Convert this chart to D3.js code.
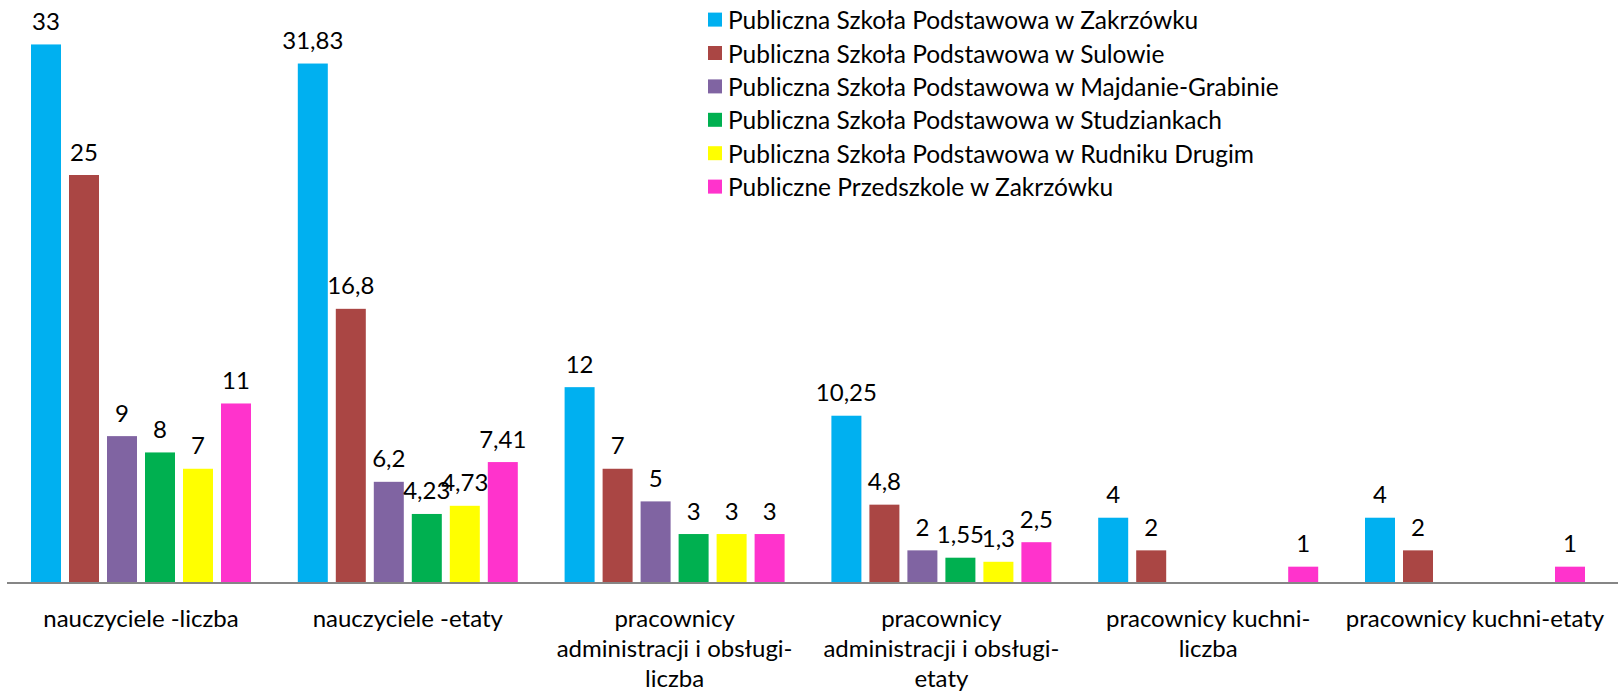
<!DOCTYPE html>
<html>
<head>
<meta charset="utf-8">
<script src="https://cdn.jsdelivr.net/npm/d3@7"></script>
<style>
  body { margin: 0; background: #fff; }
  svg { display: block; font-family: Lato, "Open Sans", sans-serif; }
</style>
</head>
<body>
<svg id="chart" width="1618" height="692"></svg>
<script>
// categories (each split into the lines shown under the axis)
var categories = [
    ['nauczyciele -liczba'],
    ['nauczyciele -etaty'],
    ['pracownicy', 'administracji i obsługi-', 'liczba'],
    ['pracownicy', 'administracji i obsługi-', 'etaty'],
    ['pracownicy kuchni-', 'liczba'],
    ['pracownicy kuchni-etaty']
];

var seriesNames = [
    'Publiczna Szkoła Podstawowa w Zakrzówku',
    'Publiczna Szkoła Podstawowa w Sulowie',
    'Publiczna Szkoła Podstawowa w Majdanie-Grabinie',
    'Publiczna Szkoła Podstawowa w Studziankach',
    'Publiczna Szkoła Podstawowa w Rudniku Drugim',
    'Publiczne Przedszkole w Zakrzówku'
];

// one array per school, one value per category (null = no bar)
var zakrzowek   = [33, 31.83, 12, 10.25, 4, 4];
var sulow       = [25, 16.8, 7, 4.8, 2, 2];
var majdan      = [9, 6.2, 5, 2, null, null];
var studzianki  = [8, 4.23, 3, 1.55, null, null];
var rudnik      = [7, 4.73, 3, 1.3, null, null];
var przedszkole = [11, 7.41, 3, 2.5, 1, 1];

var seriesValues = [zakrzowek, sulow, majdan, studzianki, rudnik, przedszkole];
var colors = ['#00B0F0', '#AA4644', '#8064A2', '#00B050', '#FFFF00', '#FF33CC'];

var svg = d3.select('#chart');

var baseline = 583,
    fontSize = 24,
    legendFont = 24.5;

// x: one band per category, inner band per school
var x0 = d3.scaleBand()
    .domain(d3.range(categories.length))
    .range([7.6, 1608.4])
    .paddingInner(0)
    .paddingOuter(0);

var x1 = d3.scaleBand()
    .domain(d3.range(seriesNames.length))
    .range([23.4, 266.8 - 23.4])
    .paddingInner(8 / 38)
    .paddingOuter(0);

var y = d3.scaleLinear()
    .domain([0, 35])
    .range([baseline, baseline - 35 * 16.32]);

var fmt = function (v) { return String(v).replace('.', ','); };

// flatten into bar records
var bars = [];
categories.forEach(function (c, ci) {
    seriesValues.forEach(function (vals, si) {
        if (vals[ci] != null) bars.push({ c: ci, s: si, v: vals[ci] });
    });
});

var groups = svg.append('g');

groups.selectAll('rect')
    .data(bars).enter()
    .append('rect')
    .attr('x', function (d) { return x0(d.c) + x1(d.s); })
    .attr('y', function (d) { return y(d.v); })
    .attr('width', x1.bandwidth())
    .attr('height', function (d) { return baseline - y(d.v); })
    .attr('fill', function (d) { return colors[d.s]; });

groups.selectAll('text.val')
    .data(bars).enter()
    .append('text')
    .attr('class', 'val')
    .attr('x', function (d) { return x0(d.c) + x1(d.s) + x1.bandwidth() / 2; })
    .attr('y', function (d) { return y(d.v) - 24; })
    .attr('text-anchor', 'middle')
    .attr('dominant-baseline', 'central')
    .attr('font-size', fontSize)
    .attr('fill', '#000')
    .text(function (d) { return fmt(d.v); });

// axis line
svg.append('line')
    .attr('x1', 7).attr('x2', 1618)
    .attr('y1', baseline).attr('y2', baseline)
    .attr('stroke', '#868686')
    .attr('stroke-width', 2);

// category labels
var cat = svg.append('g').selectAll('text')
    .data(categories).enter()
    .append('text')
    .attr('text-anchor', 'middle')
    .attr('font-size', fontSize)
    .attr('fill', '#000');

cat.selectAll('tspan')
    .data(function (d, i) { return d.map(function (l) { return { line: l, c: i }; }); })
    .enter()
    .append('tspan')
    .attr('x', function (d) { return x0(d.c) + x0.bandwidth() / 2; })
    .attr('y', function (d, i) { return baseline + 34 + i * 30; })
    .attr('dominant-baseline', 'central')
    .text(function (d) { return d.line; });

// legend
var legend = svg.append('g').selectAll('g')
    .data(seriesNames).enter()
    .append('g')
    .attr('transform', function (d, i) { return 'translate(708,' + (19.6 + i * 33.4) + ')'; });

legend.append('rect')
    .attr('x', 0).attr('y', -7)
    .attr('width', 14).attr('height', 14)
    .attr('fill', function (d, i) { return colors[i]; });

legend.append('text')
    .attr('x', 20)
    .attr('dominant-baseline', 'central')
    .attr('font-size', legendFont)
    .attr('fill', '#000')
    .text(function (d) { return d; });
</script>
</body>
</html>
